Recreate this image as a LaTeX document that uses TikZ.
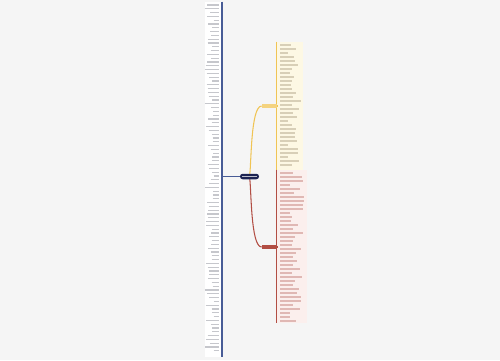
\documentclass[tikz,border=0pt]{standalone}
\usepackage{xcolor}
\usepackage{tikz}
\usetikzlibrary{positioning, calc}
\definecolor{latar}{RGB}{245,245,245}
\definecolor{birutua}{RGB}{28,35,82}
\definecolor{birugaris}{RGB}{72,92,150}
\definecolor{kuningtua}{RGB}{240,196,84}
\definecolor{kuningmuda}{RGB}{253,248,228}
\definecolor{merahtua}{RGB}{178,78,68}
\definecolor{merahmuda}{RGB}{251,239,237}

\begin{document}
\begin{tikzpicture}[
    x=0.02cm, y=-0.02cm,
    kolom/.style={rectangle, inner sep=0pt},
    pusat/.style={rectangle, inner sep=0pt, fill=birutua, rounded corners=1.5pt,
                  minimum width=0.38cm, minimum height=0.11cm},
    cabang/.style={rectangle, inner sep=0pt, minimum width=0.3cm,
                   minimum height=0.07cm},
    tulisan/.style={line width=0.7pt, black!22},
    garis/.style={line width=0.6pt}
  ]
    \useasboundingbox[fill=latar] (0,0) rectangle (500,360);
    % Kolom kiri: 17 x 355 piksel, tepi kanan biru.
    \node[kolom, fill=white, minimum width=0.34cm, minimum height=7.1cm]
      (kiri) at (213.5,179.5) {};
    \draw[birugaris, line width=1.1pt] (kiri.north east) -- (kiri.south east);
    \pgfmathsetseed{11}
    \foreach \y in {5,8.8,...,354} {
      \pgfmathsetmacro\w{5+10*rnd}
      \draw[tulisan, birugaris!35!black!25] (219-\w,\y) -- (219,\y);
    }
    % Kolom kuning dan kolom merah di kanan.
    \node[kolom, fill=kuningmuda, minimum width=0.52cm, minimum height=2.56cm]
      (kolomkuning) at (290,106) {};
    \draw[kuningtua, line width=0.8pt] (kolomkuning.north west) -- (kolomkuning.south west);
    \foreach \y in {45,49,...,168} {
      \pgfmathsetmacro\w{8+13*rnd}
      \draw[tulisan, kuningtua!60!black!35] (280,\y) -- (280+\w,\y);
    }
    \node[kolom, fill=merahmuda, minimum width=0.6cm, minimum height=3.06cm]
      (kolommerah) at (292,246.5) {};
    \draw[merahtua, line width=0.8pt] (kolommerah.north west) -- (kolommerah.south west);
    \foreach \y in {173,177,...,321} {
      \pgfmathsetmacro\w{10+14*rnd}
      \draw[tulisan, merahtua!40] (280,\y) -- (280+\w,\y);
    }
    % Cabang.
    \node[cabang, fill=kuningtua!75] (cabangkuning) at (269.5,106) {};
    \node[cabang, fill=merahtua] (cabangmerah) at (269.5,247) {};
    \draw[garis, kuningtua] (cabangkuning.east) -- (kolomkuning.west |- cabangkuning);
    \draw[garis, merahtua] (cabangmerah.east) -- (kolommerah.west |- cabangmerah);
    \coordinate (inti) at (249.5,176.5);
    \draw[garis, kuningtua] (inti) to[out=80, in=180, looseness=0.4] (cabangkuning.west);
    \draw[garis, merahtua] (inti) to[out=-80, in=180, looseness=0.4] (cabangmerah.west);
    % Simpul pusat.
    \node[pusat] (pusat) at (inti) {};
    \draw[white!70!birutua, line width=0.5pt] ($(pusat.west)+(2.5,0)$) -- ($(pusat.east)+(-2.5,0)$);
    \draw[garis, birugaris] (kiri.east |- pusat) -- (pusat.west);
  \end{tikzpicture}
\end{document}
